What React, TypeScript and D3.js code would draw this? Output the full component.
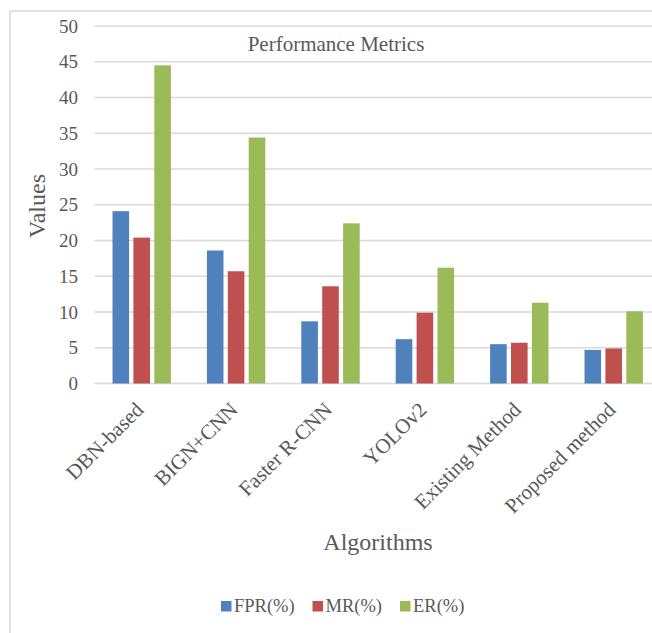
import React from "react";
import * as d3 from "d3";

const categories = ["DBN-based", "BIGN+CNN", "Faster R-CNN", "YOLOv2", "Existing Method", "Proposed method"];
const seriesNames = ["FPR(%)", "MR(%)", "ER(%)"];
const fprValues = [24.1, 18.6, 8.7, 6.2, 5.5, 4.7];
const mrValues = [20.4, 15.7, 13.6, 9.9, 5.7, 4.9];
const erValues = [44.5, 34.4, 22.4, 16.2, 11.3, 10.1];
const yTicks = [0, 5, 10, 15, 20, 25, 30, 35, 40, 45, 50];
const colors = ["#4F81BD", "#C0504D", "#9BBB59"];

const W = 652;
const H = 633;
const FONT = "'Liberation Serif', 'Times New Roman', serif";
const TEXT = "#595959";
const GRID = "#d9d9d9";

export default function App() {
  const seriesValues = [fprValues, mrValues, erValues];
  const plotLeft = 94.5;
  const step = 94.4;
  const x0 = d3.scaleBand<string>().domain(categories).range([plotLeft, plotLeft + step * categories.length]).padding(0);
  const x1 = d3
    .scaleBand<string>()
    .domain(seriesNames)
    .range([15.85, 78.55])
    .paddingInner(0.206)
    .paddingOuter(0.103);
  const y = d3.scaleLinear().domain([0, 50]).range([383.5, 26]);

  return (
    <svg
      width={W}
      height={H}
      style={{ position: "absolute", left: 0, top: 0, background: "#fff" }}
      fontFamily={FONT}
    >
      <rect x={0} y={0} width={W} height={H} fill="#fff" />
      <rect x={10} y={11} width={W + 20} height={H + 20} fill="none" stroke={GRID} strokeWidth={1.5} />
      {yTicks.map((t) => (
        <g key={t}>
          <line x1={plotLeft} x2={W} y1={y(t)} y2={y(t)} stroke={GRID} strokeWidth={1.5} />
          <text x={78} y={y(t)} dy="0.35em" textAnchor="end" fontSize={19} fill={TEXT}>
            {t}
          </text>
        </g>
      ))}
      {categories.map((c, i) => (
        <g key={c} transform={`translate(${x0(c)},0)`}>
          {seriesNames.map((s, j) => (
            <rect
              key={s}
              x={x1(s)}
              y={y(seriesValues[j][i])}
              width={x1.bandwidth()}
              height={y(0) - y(seriesValues[j][i])}
              fill={colors[j]}
            />
          ))}
        </g>
      ))}
      {categories.map((c) => {
        const cx = (x0(c) as number) + x0.bandwidth() / 2;
        return (
          <text
            key={c}
            transform={`translate(${cx + 3},${411}) rotate(-45)`}
            textAnchor="end"
            fontSize={21}
            fill={TEXT}
          >
            {c}
          </text>
        );
      })}
      <text x={336} y={50.5} textAnchor="middle" fontSize={21} fill={TEXT}>
        Performance Metrics
      </text>
      <text transform="translate(45,206) rotate(-90)" textAnchor="middle" fontSize={24} fill={TEXT}>
        Values
      </text>
      <text x={378} y={550} textAnchor="middle" fontSize={24} fill={TEXT}>
        Algorithms
      </text>
      {seriesNames.map((s, j) => {
        const lx = [221, 312.5, 400][j];
        return (
          <g key={s}>
            <rect x={lx} y={601} width={10.5} height={10.5} fill={colors[j]} />
            <text x={lx + 13} y={612} fontSize={18.5} fill={TEXT}>
              {s}
            </text>
          </g>
        );
      })}
    </svg>
  );
}
